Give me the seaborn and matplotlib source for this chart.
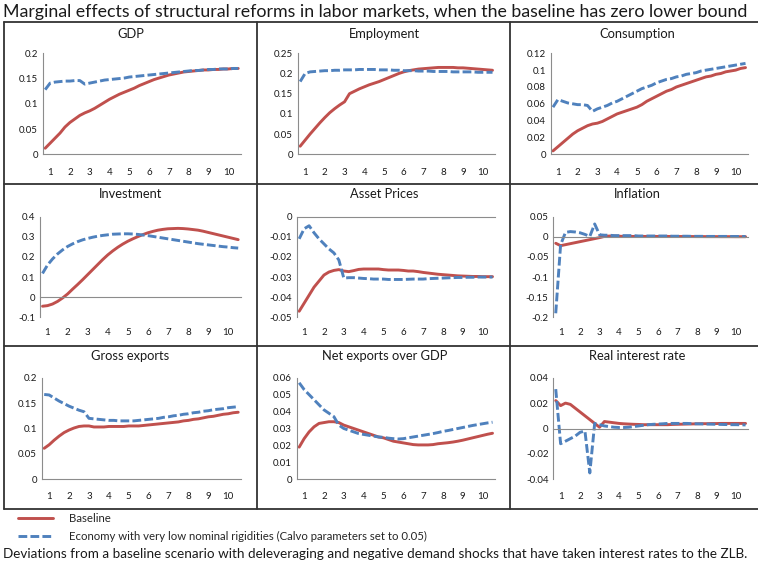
import numpy as np
import pandas as pd
import matplotlib
matplotlib.use("Agg")
import matplotlib.pyplot as plt
from matplotlib.lines import Line2D
import seaborn as sns

# ---------------------------------------------------------------------------
# Quarterly responses (40 quarters, x-axis labelled in years 1..10)
# ---------------------------------------------------------------------------
quarters = list(range(1, 41))
year_labels = [str(i) for i in range(1, 11)]

series_names = [
    "Baseline",
    "Economy with very low nominal rigidities (Calvo parameters set to 0.05)",
]

gdp_base = [0.012, 0.022, 0.032, 0.042, 0.054, 0.063, 0.070, 0.077, 0.082, 0.086,
            0.091, 0.097, 0.103, 0.109, 0.114, 0.119, 0.123, 0.127, 0.131, 0.136,
            0.140, 0.144, 0.148, 0.151, 0.154, 0.157, 0.159, 0.161, 0.163, 0.164,
            0.165, 0.166, 0.167, 0.167, 0.168, 0.168, 0.169, 0.169, 0.170, 0.170]
gdp_low = [0.128, 0.141, 0.143, 0.144, 0.145, 0.145, 0.146, 0.146, 0.139, 0.141,
           0.143, 0.145, 0.147, 0.148, 0.149, 0.150, 0.151, 0.153, 0.154, 0.155,
           0.156, 0.157, 0.158, 0.159, 0.160, 0.161, 0.162, 0.163, 0.164, 0.165,
           0.166, 0.166, 0.167, 0.168, 0.168, 0.169, 0.169, 0.169, 0.170, 0.170]

emp_base = [0.020, 0.035, 0.050, 0.064, 0.078, 0.091, 0.103, 0.113, 0.122, 0.130,
            0.150, 0.156, 0.162, 0.167, 0.172, 0.176, 0.180, 0.185, 0.190, 0.195,
            0.200, 0.204, 0.207, 0.209, 0.211, 0.212, 0.213, 0.214, 0.215, 0.215,
            0.215, 0.215, 0.214, 0.214, 0.213, 0.212, 0.211, 0.210, 0.209, 0.208]
emp_low = [0.180, 0.200, 0.204, 0.205, 0.206, 0.207, 0.207, 0.208, 0.208, 0.209,
           0.209, 0.209, 0.210, 0.210, 0.210, 0.210, 0.209, 0.209, 0.209, 0.208,
           0.208, 0.207, 0.207, 0.207, 0.206, 0.206, 0.206, 0.205, 0.205, 0.205,
           0.205, 0.204, 0.204, 0.204, 0.204, 0.204, 0.203, 0.203, 0.203, 0.203]

cons_base = [0.004, 0.009, 0.014, 0.019, 0.024, 0.028, 0.031, 0.034, 0.036, 0.037,
             0.039, 0.042, 0.045, 0.048, 0.050, 0.052, 0.054, 0.056, 0.059, 0.063,
             0.066, 0.069, 0.072, 0.075, 0.077, 0.080, 0.082, 0.084, 0.086, 0.088,
             0.090, 0.092, 0.093, 0.095, 0.096, 0.098, 0.099, 0.100, 0.102, 0.103]
cons_low = [0.056, 0.065, 0.063, 0.061, 0.060, 0.059, 0.059, 0.058, 0.051, 0.054,
            0.056, 0.058, 0.061, 0.063, 0.066, 0.069, 0.072, 0.075, 0.078, 0.080,
            0.082, 0.085, 0.087, 0.089, 0.090, 0.092, 0.093, 0.095, 0.096, 0.097,
            0.099, 0.100, 0.101, 0.102, 0.103, 0.104, 0.105, 0.106, 0.107, 0.108]

inv_base = [-0.045, -0.042, -0.034, -0.021, -0.004, 0.016, 0.040, 0.063, 0.087, 0.112,
            0.137, 0.162, 0.187, 0.210, 0.230, 0.248, 0.264, 0.278, 0.290, 0.301,
            0.311, 0.320, 0.327, 0.333, 0.337, 0.340, 0.341, 0.342, 0.341, 0.339,
            0.336, 0.333, 0.328, 0.322, 0.316, 0.310, 0.304, 0.298, 0.292, 0.286]
inv_low = [0.118, 0.160, 0.190, 0.215, 0.235, 0.252, 0.265, 0.276, 0.285, 0.292,
           0.298, 0.303, 0.307, 0.310, 0.313, 0.314, 0.315, 0.315, 0.314, 0.312,
           0.309, 0.306, 0.302, 0.298, 0.294, 0.290, 0.286, 0.282, 0.278, 0.274,
           0.270, 0.266, 0.263, 0.260, 0.257, 0.254, 0.251, 0.249, 0.246, 0.244]

asset_base = [-0.047, -0.043, -0.039, -0.035, -0.032, -0.029, -0.0275, -0.0267, -0.0263, -0.027,
              -0.0273, -0.0268, -0.0262, -0.026, -0.026, -0.026, -0.026, -0.0263, -0.0265, -0.0265,
              -0.0265, -0.0267, -0.027, -0.027, -0.0273, -0.0277, -0.028, -0.0283, -0.0286, -0.0288,
              -0.029, -0.0292, -0.0294, -0.0295, -0.0296, -0.0297, -0.0297, -0.0298, -0.0298, -0.0298]
asset_low = [-0.011, -0.006, -0.0045, -0.008, -0.011, -0.0135, -0.016, -0.018, -0.0215, -0.0305,
             -0.0303, -0.0303, -0.0305, -0.0307, -0.0308, -0.031, -0.031, -0.031, -0.0312, -0.0312,
             -0.0312, -0.0312, -0.0311, -0.031, -0.031, -0.031, -0.0308, -0.0307, -0.0306, -0.0305,
             -0.0304, -0.0303, -0.0302, -0.0302, -0.0301, -0.0301, -0.030, -0.030, -0.030, -0.030]

infl_base = [-0.016, -0.022, -0.0195, -0.017, -0.0145, -0.012, -0.0095, -0.007, -0.0045, -0.002,
             0.001, 0.002, 0.002, 0.0015, 0.001, 0.001, 0.001, 0.001, 0.001, 0.001,
             0.001, 0.001, 0.001, 0.001, 0.0008, 0.0008, 0.0008, 0.0007, 0.0007, 0.0006,
             0.0006, 0.0005, 0.0005, 0.0005, 0.0004, 0.0004, 0.0004, 0.0003, 0.0003, 0.0003]
infl_low = [-0.190, -0.020, 0.011, 0.013, 0.012, 0.010, 0.006, 0.001, 0.032, 0.005,
            0.004, 0.004, 0.003, 0.003, 0.003, 0.003, 0.003, 0.002, 0.002, 0.002,
            0.002, 0.002, 0.002, 0.002, 0.0015, 0.0015, 0.0015, 0.0015, 0.0012, 0.0012,
            0.0012, 0.001, 0.001, 0.001, 0.001, 0.001, 0.0008, 0.0008, 0.0008, 0.0008]

gross_base = [0.061, 0.068, 0.077, 0.085, 0.092, 0.097, 0.101, 0.104, 0.105, 0.105,
              0.103, 0.103, 0.103, 0.104, 0.104, 0.104, 0.104, 0.105, 0.105, 0.105,
              0.106, 0.107, 0.108, 0.109, 0.110, 0.111, 0.112, 0.113, 0.115, 0.116,
              0.118, 0.119, 0.121, 0.123, 0.124, 0.126, 0.128, 0.129, 0.131, 0.132]
gross_low = [0.167, 0.166, 0.160, 0.154, 0.149, 0.144, 0.140, 0.136, 0.133, 0.120,
             0.119, 0.118, 0.117, 0.116, 0.116, 0.115, 0.115, 0.115, 0.115, 0.116,
             0.117, 0.118, 0.119, 0.120, 0.122, 0.123, 0.125, 0.126, 0.128, 0.129,
             0.131, 0.132, 0.134, 0.135, 0.137, 0.138, 0.139, 0.141, 0.142, 0.143]

net_base = [0.019, 0.024, 0.028, 0.031, 0.033, 0.0335, 0.034, 0.034, 0.0335, 0.032,
            0.031, 0.030, 0.029, 0.028, 0.027, 0.026, 0.025, 0.0245, 0.0235, 0.0225,
            0.022, 0.0215, 0.021, 0.0205, 0.0203, 0.0203, 0.0203, 0.0205, 0.021, 0.0213,
            0.0216, 0.022, 0.0225, 0.0231, 0.0238, 0.0245, 0.0252, 0.0259, 0.0266, 0.0272]
net_low = [0.057, 0.053, 0.050, 0.047, 0.044, 0.041, 0.039, 0.037, 0.032, 0.030,
           0.029, 0.028, 0.027, 0.0265, 0.026, 0.0255, 0.025, 0.0248, 0.0243, 0.024,
           0.0238, 0.024, 0.0245, 0.025, 0.0255, 0.026, 0.0265, 0.027, 0.0276, 0.0283,
           0.0288, 0.0294, 0.030, 0.0306, 0.0312, 0.0318, 0.0323, 0.0328, 0.0333, 0.0337]

real_base = [0.022, 0.018, 0.020, 0.019, 0.016, 0.013, 0.010, 0.007, 0.004, 0.001,
             0.0055, 0.005, 0.0045, 0.004, 0.0037, 0.0035, 0.0033, 0.0032, 0.003, 0.003,
             0.003, 0.003, 0.003, 0.003, 0.0032, 0.0033, 0.0034, 0.0035, 0.0036, 0.0037,
             0.0038, 0.0038, 0.0039, 0.0039, 0.004, 0.004, 0.004, 0.004, 0.004, 0.004]
real_low = [0.031, -0.012, -0.010, -0.008, -0.006, -0.003, -0.002, -0.035, 0.004, 0.003,
            0.002, 0.0015, 0.001, 0.0008, 0.0008, 0.001, 0.0015, 0.002, 0.0025, 0.003,
            0.0033, 0.0035, 0.0037, 0.004, 0.004, 0.004, 0.004, 0.004, 0.0038, 0.0037,
            0.0036, 0.0035, 0.0034, 0.0033, 0.0032, 0.0031, 0.003, 0.003, 0.0029, 0.0028]

panel_titles = ["GDP", "Employment", "Consumption",
                "Investment", "Asset Prices", "Inflation",
                "Gross exports", "Net exports over GDP", "Real interest rate"]
panel_series = [(gdp_base, gdp_low), (emp_base, emp_low), (cons_base, cons_low),
                (inv_base, inv_low), (asset_base, asset_low), (infl_base, infl_low),
                (gross_base, gross_low), (net_base, net_low), (real_base, real_low)]
# (min, max, step) of each value axis
y_scales = [(0, 0.2, 0.05), (0, 0.25, 0.05), (0, 0.12, 0.02),
            (-0.1, 0.4, 0.1), (-0.05, 0.0, 0.01), (-0.2, 0.05, 0.05),
            (0, 0.2, 0.05), (0, 0.06, 0.01), (-0.04, 0.04, 0.02)]

main_title = ("Marginal effects of structural reforms in labor markets, "
              "when the baseline has zero lower bound")
footnote = ("Deviations from a baseline scenario with deleveraging and negative "
            "demand shocks that have taken interest rates to the ZLB.")

# ---------------------------------------------------------------------------
# Styling
# ---------------------------------------------------------------------------
sns.set_style("white")
plt.rcParams["font.family"] = ["Lato", "DejaVu Sans"]
plt.rcParams["axes.unicode_minus"] = False

RED = "#C0504D"
BLUE = "#4F81BD"
AXIS_GREY = "#8C8C8C"
FRAME = "#333333"
TEXT = "#1A1A1A"
palette = {series_names[0]: RED, series_names[1]: BLUE}
dash_map = {series_names[0]: "", series_names[1]: (3.0, 1.1)}

W, H = 758, 564
fig = plt.figure(figsize=(W / 100, H / 100), dpi=100)


def frac_rect(x0, x1, y0, y1):
    """Pixel box (top-left origin) -> figure fraction rectangle."""
    return [x0 / W, 1 - y1 / H, (x1 - x0) / W, (y1 - y0) / H]


lefts = [42.7, 297.7, 550.5, 40.0, 296.7, 553.3, 41.7, 296.7, 553.3]
rights = [240.7, 495.0, 748.0]
rows_y = [(53.3, 154.3), (216.7, 317.3), (377.7, 479.3)]
year_pad = [10.0, 8.0, 9.0]
title_x = [130.5, 384.5, 637.0]
title_y = [33.5, 194.0, 356.5]

first_ax = None
for i, (name, (base, low), (ymin, ymax, ystep)) in enumerate(
        zip(panel_titles, panel_series, y_scales)):
    r, c = divmod(i, 3)
    y0, y1 = rows_y[r]
    ax = fig.add_axes(frac_rect(lefts[i], rights[c], y0, y1))
    if first_ax is None:
        first_ax = ax

    df = pd.DataFrame({
        "quarter": quarters * 2,
        "value": list(base) + list(low),
        "series": [series_names[0]] * len(base) + [series_names[1]] * len(low),
    })
    sns.lineplot(data=df, x="quarter", y="value", hue="series", style="series",
                 palette=palette, dashes=dash_map, hue_order=series_names,
                 style_order=series_names, linewidth=2.1, legend=False, ax=ax)

    ax.set_xlim(0.5, 40.5)
    ax.set_ylim(ymin, ymax)
    yt = np.round(np.arange(ymin, ymax + ystep / 2, ystep), 4)
    ax.set_yticks(yt)
    ax.set_yticklabels([f"{v:g}" if abs(v) > 1e-12 else "0" for v in yt])
    ax.set_xlabel("")
    ax.set_ylabel("")

    # category axis: tick marks between years, crossing the value axis at zero
    ax.set_xticks(np.arange(0.5, 41, 4))
    ax.tick_params(axis="x", labelbottom=False, length=2.2, width=0.8,
                   color=AXIS_GREY, direction="out")
    ax.tick_params(axis="y", length=2.2, width=0.8, color=AXIS_GREY,
                   direction="out", pad=1.2, labelsize=7.0, labelcolor=TEXT)
    ax.spines["bottom"].set_position(("data", 0))
    for s in ("top", "right"):
        ax.spines[s].set_visible(False)
    for s in ("left", "bottom"):
        ax.spines[s].set_color(AXIS_GREY)
        ax.spines[s].set_linewidth(0.8)
    ax.set_facecolor("none")

    # year labels always sit below the plot area
    sec = ax.secondary_xaxis(0)
    sec.set_xticks(np.arange(2, 41, 4))
    sec.set_xticklabels(year_labels)
    sec.tick_params(length=0, pad=year_pad[r], labelsize=7.0, labelcolor=TEXT)
    sec.spines["bottom"].set_visible(False)

    fig.text(title_x[c] / W, 1 - title_y[r] / H, name, ha="center", va="center",
             fontsize=9.3, color=TEXT)

# table-like frame around the panels
for yy in (22, 184, 346, 509):
    fig.add_artist(Line2D([4 / W, 1.0], [1 - yy / H] * 2, color=FRAME, lw=1.3))
for xx in (4, 257, 510):
    fig.add_artist(Line2D([xx / W] * 2, [1 - 22 / H, 1 - 509 / H], color=FRAME, lw=1.3))

fig.text(3 / W, 1 - 12 / H, main_title, ha="left", va="center",
         fontsize=12.8, color=TEXT)

handles = first_ax.get_lines()[:2]
fig.legend(handles, series_names, loc="upper left",
           bbox_to_anchor=(18 / W, 1 - 513 / H), frameon=False, fontsize=8.2,
           handlelength=3.05, handletextpad=1.45, labelspacing=0.6,
           borderpad=0, borderaxespad=0)

fig.text(3 / W, 1 - 554 / H, footnote, ha="left", va="center",
         fontsize=9.7, color=TEXT)

fig.savefig("out.png", dpi=100, facecolor="white")
